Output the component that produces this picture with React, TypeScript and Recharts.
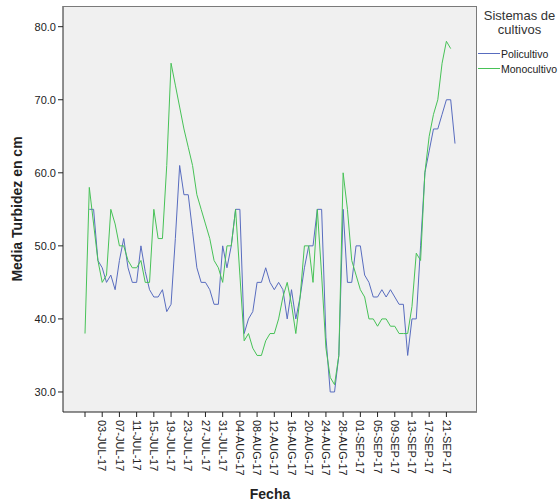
import { LineChart, Line, XAxis, YAxis, CartesianGrid } from "recharts";

// categorías del eje X (la primera no tiene etiqueta)
const fechas = [
  "",
  "30-JUN-17",
  "01-JUL-17", "02-JUL-17", "03-JUL-17", "04-JUL-17", "05-JUL-17", "06-JUL-17", "07-JUL-17",
  "08-JUL-17", "09-JUL-17", "10-JUL-17", "11-JUL-17", "12-JUL-17", "13-JUL-17", "14-JUL-17",
  "15-JUL-17", "16-JUL-17", "17-JUL-17", "18-JUL-17", "19-JUL-17", "20-JUL-17", "21-JUL-17",
  "22-JUL-17", "23-JUL-17", "24-JUL-17", "25-JUL-17", "26-JUL-17", "27-JUL-17", "28-JUL-17",
  "29-JUL-17", "30-JUL-17", "31-JUL-17",
  "01-AUG-17", "02-AUG-17", "03-AUG-17", "04-AUG-17", "05-AUG-17", "06-AUG-17", "07-AUG-17",
  "08-AUG-17", "09-AUG-17", "10-AUG-17", "11-AUG-17", "12-AUG-17", "13-AUG-17", "14-AUG-17",
  "15-AUG-17", "16-AUG-17", "17-AUG-17", "18-AUG-17", "19-AUG-17", "20-AUG-17", "21-AUG-17",
  "22-AUG-17", "23-AUG-17", "24-AUG-17", "25-AUG-17", "26-AUG-17", "27-AUG-17", "28-AUG-17",
  "29-AUG-17", "30-AUG-17", "31-AUG-17",
  "01-SEP-17", "02-SEP-17", "03-SEP-17", "04-SEP-17", "05-SEP-17", "06-SEP-17", "07-SEP-17",
  "08-SEP-17", "09-SEP-17", "10-SEP-17", "11-SEP-17", "12-SEP-17", "13-SEP-17", "14-SEP-17",
  "15-SEP-17", "16-SEP-17", "17-SEP-17", "18-SEP-17", "19-SEP-17", "20-SEP-17", "21-SEP-17",
  "22-SEP-17", "23-SEP-17",
];

const policultivo = [
  null, 55, 55, 48, 47, 45, 46, 44, 48, 51,
  47, 45, 45, 50, 46.5, 44, 43, 43, 44, 41,
  42, 51, 61, 57, 57, 52, 47, 45, 45, 44,
  42, 42, 50, 47, 50, 55, 55, 38, 40, 41,
  45, 45, 47, 45, 44, 45, 44, 40, 44, 40,
  43, 47, 50, 50, 55, 55, 37.5, 30, 30, 35,
  55, 45, 45, 50, 50, 46, 45, 43, 43, 44,
  43, 44, 43, 42, 42, 35, 40, 40, 50, 60,
  63, 66, 66, 68, 70, 70, 64,
];

const monocultivo = [
  38, 58, 53, 48, 45, 46, 55, 53, 50, 50,
  48, 47, 47, 48, 45, 45, 55, 51, 51, 61,
  75, 72, 69, 66, 63.5, 61, 57, 55, 53, 51,
  48, 47, 45, 50, 50, 55, 46, 37, 38, 36,
  35, 35, 37, 38, 38, 40, 43, 45, 42, 38,
  43, 50, 50, 45, 55, 46, 36, 32, 31, 35,
  60, 55, 48, 46, 44, 43, 40, 40, 39, 40,
  40, 39, 39, 38, 38, 38, 41.7, 49, 48, 60,
  65, 68, 70, 75, 78, 77, null,
];

const yTicks = [30, 40, 50, 60, 70, 80];

const series = [
  { key: "policultivo", name: "Policultivo", color: "#586cbf" },
  { key: "monocultivo", name: "Monocultivo", color: "#47c257" },
];

const data = fechas.map((f, i) => ({
  fecha: f,
  policultivo: policultivo[i],
  monocultivo: monocultivo[i],
}));

const FONT = "'Liberation Sans', Arial, sans-serif";

const FechaTick = ({ x, y, payload }: any) => (
  <g transform={`translate(${x},${y})`}>
    <text
      transform="rotate(90)"
      x={1}
      y={0}
      dy="0.35em"
      textAnchor="start"
      fontSize={11}
      fontFamily={FONT}
      fill="#222"
    >
      {payload.value}
    </text>
  </g>
);

export default function App() {
  return (
    <div
      style={{
        position: "absolute",
        left: 0,
        top: 0,
        width: 559,
        height: 502,
        background: "#fff",
        fontFamily: FONT,
      }}
    >
      <LineChart
        width={559}
        height={502}
        data={data}
        margin={{ top: 6, right: 82, bottom: 0, left: 0 }}
      >
        <CartesianGrid fill="#f0f0f0" horizontal={false} vertical={false} />
        <XAxis
          dataKey="fecha"
          type="category"
          interval={3}
          height={90}
          padding={{ left: 22, right: 22 }}
          tickSize={5}
          tick={<FechaTick />}
          axisLine={{ stroke: "#222" }}
          tickLine={{ stroke: "#222" }}
        />
        <YAxis
          width={63}
          domain={[27.26, 82.83]}
          ticks={yTicks}
          tickSize={5}
          tickFormatter={(v) => v.toFixed(1)}
          tick={{ fontSize: 11, fill: "#222", fontFamily: FONT }}
          axisLine={{ stroke: "#222" }}
          tickLine={{ stroke: "#222" }}
        />
        {series.map((s) => (
          <Line
            key={s.key}
            type="linear"
            dataKey={s.key}
            name={s.name}
            stroke={s.color}
            strokeWidth={1}
            dot={false}
            activeDot={false}
            isAnimationActive={false}
          />
        ))}
      </LineChart>

      {/* borde del área de trazado */}
      <div
        style={{
          position: "absolute",
          left: 63,
          top: 6,
          width: 414,
          height: 406,
          boxSizing: "border-box",
          borderTop: "1px solid #7a7a7a",
          borderRight: "1px solid #7a7a7a",
          pointerEvents: "none",
        }}
      />

      {/* títulos de ejes */}
      <svg
        width={559}
        height={502}
        style={{ position: "absolute", left: 0, top: 0, pointerEvents: "none" }}
      >
        <text
          x={270}
          y={499}
          textAnchor="middle"
          fontSize={14}
          fontWeight="bold"
          fontFamily={FONT}
          fill="#222"
        >
          Fecha
        </text>
        <text
          transform="translate(22,209) rotate(-90)"
          textAnchor="middle"
          fontSize={14}
          fontWeight="bold"
          fontFamily={FONT}
          fill="#222"
        >
          Media Turbidez en cm
        </text>
      </svg>

      {/* leyenda */}
      <div
        style={{
          position: "absolute",
          left: 478,
          top: 9,
          width: 81,
          fontSize: 13,
          color: "#333",
          lineHeight: "14px",
        }}
      >
        <div style={{ width: 81, textAlign: "center", whiteSpace: "nowrap", marginLeft: 1 }}>
          Sistemas de
          <br />
          cultivos
        </div>
        <div style={{ marginTop: 9 }}>
          {series.map((s) => (
            <div
              key={s.key}
              style={{ display: "flex", alignItems: "center", height: 15, whiteSpace: "nowrap" }}
            >
              <span
                style={{ display: "inline-block", width: 22, height: 1, background: s.color, marginRight: 1 }}
              />
              <span style={{ fontSize: 10.5, color: "#222" }}>{s.name}</span>
            </div>
          ))}
        </div>
      </div>
    </div>
  );
}
